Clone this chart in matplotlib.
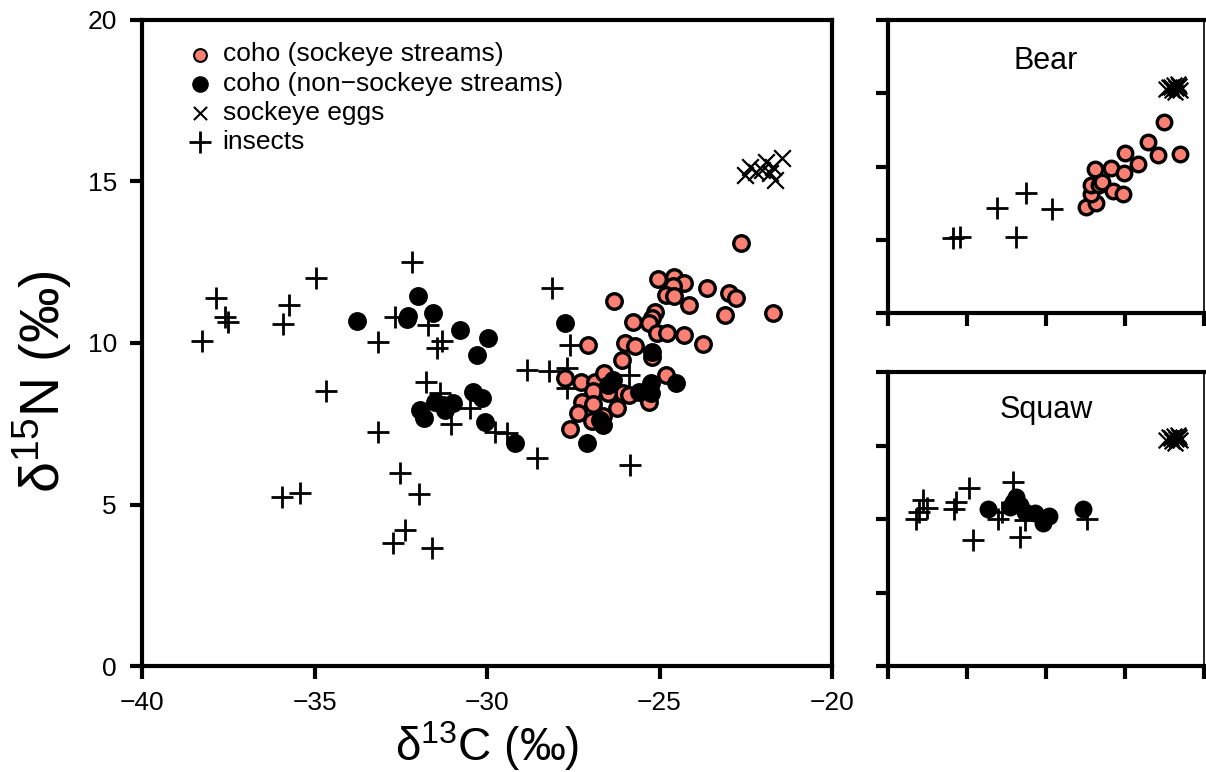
import matplotlib
matplotlib.use('Agg')
import matplotlib.pyplot as plt

plt.rcParams['font.family'] = ['Liberation Sans', 'DejaVu Sans']
plt.rcParams['mathtext.default'] = 'regular'

# main panel data (d13C, d15N)
coho_sock_x = [-22.64, -25.05, -24.58, -24.28, -24.62, -24.81, -24.58, -23.63, -22.98, -22.78,
               -24.14, -26.31, -21.72, -23.09, -25.78, -25.13, -25.23, -25.30, -25.08, -24.77,
               -24.29, -23.75, -27.08, -26.00, -25.71, -25.23, -26.08, -27.74, -27.28, -26.87,
               -26.61, -26.92, -26.05, -25.87, -26.50, -24.81, -25.30, -27.26, -26.92, -27.37,
               -26.22, -26.63, -26.96, -27.59]
coho_sock_y = [13.10, 11.97, 12.03, 11.85, 11.76, 11.49, 11.46, 11.71, 11.56, 11.38,
               11.18, 11.30, 10.92, 10.87, 10.66, 10.97, 10.78, 10.63, 10.30, 10.30,
               10.25, 9.97, 9.93, 10.00, 9.90, 9.58, 9.47, 8.91, 8.78, 8.78,
               9.08, 8.52, 8.44, 8.39, 8.44, 9.01, 8.18, 8.18, 8.11, 7.84,
               7.98, 7.74, 7.59, 7.33]

coho_non_x = [-33.78, -31.99, -32.33, -32.30, -31.56, -30.78, -29.97, -30.30, -30.42, -30.15,
              -31.94, -31.84, -31.51, -31.27, -31.22, -30.99, -30.06, -29.19, -27.74, -25.23,
              -26.34, -26.48, -25.59, -25.26, -25.26, -24.52, -26.72, -26.65, -27.09]
coho_non_y = [10.68, 11.46, 10.74, 10.85, 10.92, 10.40, 10.15, 9.63, 8.49, 8.29,
              7.93, 7.67, 8.18, 8.08, 7.93, 8.13, 7.56, 6.89, 10.63, 9.73,
              8.85, 8.70, 8.49, 8.75, 8.44, 8.75, 7.62, 7.46, 6.89]

eggs_x = [-22.52, -22.38, -22.04, -21.90, -21.80, -21.65, -21.46, -21.70, -22.20]
eggs_y = [15.20, 15.46, 15.36, 15.61, 15.25, 15.05, 15.72, 15.46, 15.30]

insect_x = [-32.18, -34.97, -37.86, -37.60, -37.50, -35.74, -35.90, -38.27, -33.15, -32.67,
            -31.72, -31.31, -31.46, -34.67, -31.77, -31.36, -30.49, -31.04, -33.15, -32.52,
            -31.96, -35.93, -35.42, -32.38, -32.72, -31.60, -29.77, -29.43, -28.54, -25.86,
            -28.85, -28.20, -27.69, -27.67, -25.87, -27.60, -28.11]
insect_y = [12.52, 12.02, 11.38, 10.80, 10.66, 11.18, 10.59, 10.07, 10.04, 10.81,
            10.56, 10.06, 9.83, 8.51, 8.80, 8.44, 7.98, 7.49, 7.25, 5.97,
            5.32, 5.24, 5.35, 4.21, 3.82, 3.66, 7.25, 7.20, 6.45, 6.22,
            9.16, 9.14, 9.22, 8.60, 9.01, 9.94, 11.69]

# Bear inset
bear_coho_x = [-27.45, -26.86, -27.17, -27.17, -26.64, -26.43, -26.90, -25.86, -25.76, -25.12,
               -25.06, -25.00, -24.17, -23.53, -22.94, -22.52, -21.52]
bear_coho_y = [7.21, 7.53, 8.12, 8.74, 8.74, 8.96, 9.81, 9.88, 8.33, 8.10,
               9.58, 10.90, 10.17, 11.65, 10.78, 13.02, 10.83]
bear_insect_x = [-35.89, -35.47, -33.10, -31.25, -31.89, -29.65]
bear_insect_y = [5.10, 5.17, 7.15, 8.21, 5.17, 7.10]
bear_eggs_x = [-22.40, -22.20, -22.05, -21.90, -21.75, -21.60, -21.50, -21.85, -22.10, -21.65]
bear_eggs_y = [15.30, 15.45, 15.20, 15.55, 15.35, 15.50, 15.25, 15.10, 15.40, 15.60]

# Squaw inset
squaw_coho_x = [-33.69, -32.25, -31.89, -31.62, -31.30, -30.67, -30.18, -29.82, -27.64, -32.08]
squaw_coho_y = [10.68, 10.84, 11.48, 10.95, 10.50, 10.43, 9.71, 10.20, 10.66, 11.18]
squaw_insect_x = [-38.24, -37.80, -37.54, -38.01, -35.85, -35.68, -34.90, -34.62, -33.03, -32.78,
                  -32.08, -31.66, -31.35, -27.43]
squaw_insect_y = [9.98, 11.29, 10.77, 10.50, 10.66, 11.18, 12.09, 8.57, 9.98, 10.50,
                  12.54, 8.80, 9.93, 9.98]
squaw_eggs_x = [-22.40, -22.20, -22.05, -21.90, -21.75, -21.60, -21.50, -21.85, -22.10, -21.65]
squaw_eggs_y = [15.40, 15.55, 15.30, 15.65, 15.45, 15.60, 15.35, 15.20, 15.50, 15.70]

pink = '#F98072'
ticks_x = [-40, -35, -30, -25, -20]
ticks_y = [0, 5, 10, 15, 20]

W, H = 1206, 772
fig = plt.figure(figsize=(W / 100, H / 100), dpi=100)


def box(l, r, t, b):
    return [l / W, 1 - b / H, (r - l) / W, (b - t) / H]


def style(ax, labels):
    ax.set_xlim(-40, -20)
    ax.set_ylim(0, 20)
    ax.set_xticks(ticks_x)
    ax.set_yticks(ticks_y)
    for s in ax.spines.values():
        s.set_linewidth(3.0)
    ax.tick_params(direction='out', length=9, width=3.0, labelsize=19, pad=9)
    if not labels:
        ax.set_xticklabels([])
        ax.set_yticklabels([])


def draw(ax, cx, cy, nx, ny, ix, iy, ex, ey, cs, ps):
    ax.scatter(ix, iy, marker='+', s=ps, c='black', linewidths=2.0, zorder=3)
    ax.scatter(ex, ey, marker='x', s=ps * 0.55, c='black', linewidths=1.6, zorder=3)
    if cx:
        ax.scatter(cx, cy, s=cs, c=pink, edgecolors='black', linewidths=2.4, zorder=4)
    if nx:
        ax.scatter(nx, ny, s=cs, c='black', edgecolors='black', linewidths=2.4, zorder=5)


ax = fig.add_axes(box(142, 832, 20, 666))
style(ax, True)
draw(ax, coho_sock_x, coho_sock_y, coho_non_x, coho_non_y,
     insect_x, insect_y, eggs_x, eggs_y, 125, 260)
ax.set_xlabel(r'$\delta^{13}$C (‰)', fontsize=33, labelpad=3)
ax.set_ylabel(r'$\delta^{15}$N (‰)', fontsize=40)
ax.yaxis.set_label_coords(-0.098, 0.44)

h1 = ax.scatter([], [], s=85, c=pink, edgecolors='black', linewidths=1.5)
h2 = ax.scatter([], [], s=120, c='black')
h3 = ax.scatter([], [], marker='x', s=90, c='black', linewidths=1.5)
h4 = ax.scatter([], [], marker='+', s=260, c='black', linewidths=2.0)
ax.legend([h1, h2, h3, h4],
          ['coho (sockeye streams)', 'coho (non\u2212sockeye streams)', 'sockeye eggs', 'insects'],
          loc='upper left', bbox_to_anchor=(0.029, 1.0), frameon=False, fontsize=19,
          handletextpad=0.25, labelspacing=0.2, borderpad=0.35, handlelength=1.2)

ax_b = fig.add_axes(box(888, 1204, 20, 313))
style(ax_b, False)
draw(ax_b, bear_coho_x, bear_coho_y, None, None,
     bear_insect_x, bear_insect_y, bear_eggs_x, bear_eggs_y, 110, 230)
ax_b.spines['right'].set_linewidth(1.2)
ax_b.text(0.5, 0.86, 'Bear', transform=ax_b.transAxes, ha='center', va='center', fontsize=22)

ax_s = fig.add_axes(box(888, 1204, 372, 666))
style(ax_s, False)
draw(ax_s, None, None, squaw_coho_x, squaw_coho_y,
     squaw_insect_x, squaw_insect_y, squaw_eggs_x, squaw_eggs_y, 110, 230)
ax_s.spines['right'].set_linewidth(1.2)
ax_s.text(0.5, 0.87, 'Squaw', transform=ax_s.transAxes, ha='center', va='center', fontsize=22)

fig.savefig('out.png', dpi=100)
